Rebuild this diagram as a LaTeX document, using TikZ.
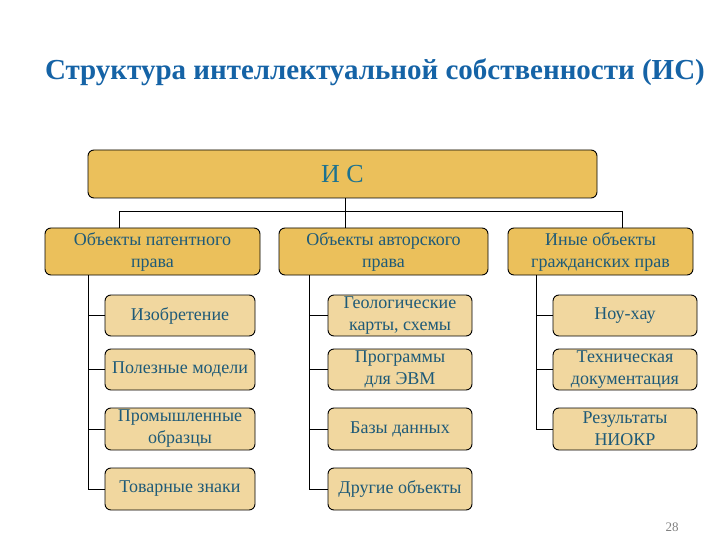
\documentclass[tikz,border=0pt]{standalone}
\usepackage{fontspec}
\setmainfont{Liberation Serif}
\definecolor{gold}{HTML}{EBC05B}
\definecolor{wheat}{HTML}{F1D79F}
\definecolor{txt}{HTML}{1E5A78}
\definecolor{ttl}{HTML}{1563A6}
\definecolor{ictxt}{HTML}{1C7290}
\tikzset{
  lvl/.style={draw=black, line width=0.9pt, rounded corners=6pt, fill=gold, text=txt,
    align=center, inner sep=0pt, font=\fontsize{18}{22}\selectfont},
  leaf/.style={draw=black, line width=0.9pt, rounded corners=6pt, fill=wheat, text=txt,
    align=center, inner sep=0pt, font=\fontsize{18}{22}\selectfont},
  conn/.style={draw=black, line width=0.9pt}
}
\begin{document}
\begin{tikzpicture}[x=1pt,y=-1pt]
\useasboundingbox (0,0) rectangle (720,540);
\node[font=\bfseries\fontsize{29}{32}\selectfont, text=ttl] (title) at (375,72) {Структура интеллектуальной собственности (ИС)};
\node[lvl, minimum width=509pt, minimum height=48pt, text=ictxt, font=\fontsize{26}{28}\selectfont] (ic) at (342.5,174) {И С};
\node[lvl, minimum width=215pt, minimum height=47pt] (b1) at (152.5,251.5) {Объекты патентного\\права};
\node[lvl, minimum width=209pt, minimum height=47pt] (b2) at (383.5,251.5) {Объекты авторского\\права};
\node[lvl, minimum width=185pt, minimum height=47pt] (b3) at (600.5,251.5) {Иные объекты\\гражданских прав};
% column 1
\node[leaf, minimum width=150pt, minimum height=41pt] (c11) at (180,315.5) {Изобретение};
\node[leaf, minimum width=150pt, minimum height=41pt] (c12) at (180,369.5) {Полезные модели};
\node[leaf, minimum width=150pt, minimum height=42pt] (c13) at (180,429) {Промышленные\\образцы};
\node[leaf, minimum width=150pt, minimum height=42pt] (c14) at (180,489) {Товарные знаки};
% column 2
\node[leaf, minimum width=144pt, minimum height=41pt] (c21) at (400,315.5) {Геологические\\карты, схемы};
\node[leaf, minimum width=144pt, minimum height=41pt] (c22) at (400,369.5) {Программы\\для ЭВМ};
\node[leaf, minimum width=144pt, minimum height=42pt] (c23) at (400,429) {Базы данных};
\node[leaf, minimum width=144pt, minimum height=42pt] (c24) at (400,489) {Другие объекты};
% column 3
\node[leaf, minimum width=144pt, minimum height=41pt] (c31) at (625,315.5) {Ноу-хау};
\node[leaf, minimum width=144pt, minimum height=41pt] (c32) at (625,369.5) {Техническая\\документация};
\node[leaf, minimum width=144pt, minimum height=42pt] (c33) at (625,429) {Результаты\\НИОКР};
\node[text=gray, font=\fontsize{13}{15}\selectfont] (pg) at (672,527) {28};
% top connectors
\coordinate (bus) at (345,211);
\coordinate (d1) at (119,211);
\coordinate (d3) at (622,211);
\draw[conn] (ic.south -| bus) -- (bus);
\draw[conn] (d1) -- (d3);
\draw[conn] (d1) -- (d1 |- b1.north);
\draw[conn] (bus) -- (bus |- b2.north);
\draw[conn] (d3) -- (d3 |- b3.north);
% trunks
\coordinate (t1) at (88,0);
\coordinate (t2) at (309,0);
\coordinate (t3) at (536,0);
\draw[conn] (t1 |- b1.south) |- (c14.west);
\draw[conn] (t1 |- c11.west) -- (c11.west);
\draw[conn] (t1 |- c12.west) -- (c12.west);
\draw[conn] (t1 |- c13.west) -- (c13.west);
\draw[conn] (t2 |- b2.south) |- (c24.west);
\draw[conn] (t2 |- c21.west) -- (c21.west);
\draw[conn] (t2 |- c22.west) -- (c22.west);
\draw[conn] (t2 |- c23.west) -- (c23.west);
\draw[conn] (t3 |- b3.south) |- (c33.west);
\draw[conn] (t3 |- c31.west) -- (c31.west);
\draw[conn] (t3 |- c32.west) -- (c32.west);
\end{tikzpicture}
\end{document}
